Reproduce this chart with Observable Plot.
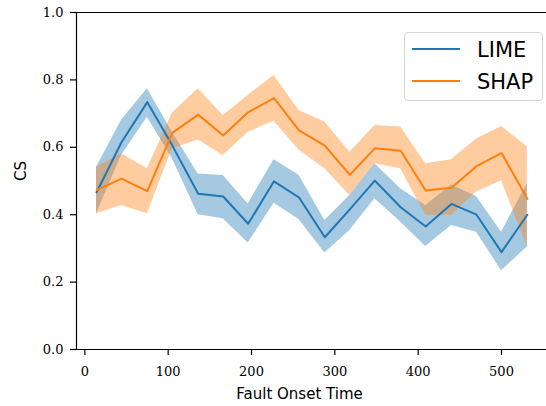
<!DOCTYPE html>
<html><head><meta charset="utf-8">
<script src="https://cdn.jsdelivr.net/npm/d3@7"></script>
<script src="https://cdn.jsdelivr.net/npm/@observablehq/plot@0.6"></script>
<style>
body{margin:0;background:#fff;}
#wrap{position:relative;width:546px;height:406px;overflow:hidden;}
.legend{position:absolute;left:404px;top:32px;width:137px;height:67px;border:1px solid #d6d6d6;border-radius:4px;background:rgba(255,255,255,0.8);font-family:"DejaVu Sans",sans-serif;font-size:21px;color:#000;}
.legend .sw{position:absolute;left:7px;width:48px;height:2px;}
.legend .lb{position:absolute;left:72px;line-height:21px;white-space:nowrap;}
</style>
</head><body>
<div id="wrap"></div>
<script>
const onset = [14, 44, 75, 105, 136, 166, 196, 227, 257, 288, 318, 348, 379, 409, 440, 470, 500, 531];
const limeMean = [0.466, 0.615, 0.734, 0.605, 0.462, 0.454, 0.373, 0.499, 0.451, 0.333, 0.416, 0.501, 0.422, 0.365, 0.432, 0.400, 0.289, 0.400];
const limeLow  = [0.403, 0.576, 0.689, 0.566, 0.400, 0.388, 0.316, 0.434, 0.386, 0.286, 0.353, 0.447, 0.378, 0.306, 0.368, 0.348, 0.234, 0.304];
const limeHigh = [0.541, 0.680, 0.774, 0.645, 0.521, 0.516, 0.432, 0.563, 0.517, 0.383, 0.457, 0.551, 0.477, 0.427, 0.488, 0.454, 0.348, 0.492];
const shapMean = [0.473, 0.507, 0.470, 0.643, 0.697, 0.635, 0.704, 0.746, 0.650, 0.605, 0.518, 0.597, 0.590, 0.472, 0.480, 0.544, 0.583, 0.447];
const shapLow  = [0.403, 0.427, 0.403, 0.596, 0.622, 0.576, 0.645, 0.677, 0.592, 0.536, 0.457, 0.551, 0.536, 0.398, 0.398, 0.467, 0.501, 0.304];
const shapHigh = [0.541, 0.581, 0.536, 0.702, 0.774, 0.694, 0.754, 0.813, 0.709, 0.675, 0.585, 0.665, 0.660, 0.551, 0.563, 0.625, 0.662, 0.602];
const seriesNames = ["LIME", "SHAP"];
const seriesColors = ["#1f77b4", "#ff7f0e"];
const xTicks = [0, 100, 200, 300, 400, 500];
const yTicks = [0, 0.2, 0.4, 0.6, 0.8, 1.0];
const xLabel = "Fault Onset Time";
const yLabel = "CS";

const build = (mean, lo, hi) => onset.map((t, i) => ({t, mean: mean[i], lo: lo[i], hi: hi[i]}));
const lime = build(limeMean, limeLow, limeHigh);
const shap = build(shapMean, shapLow, shapHigh);

const chart = Plot.plot({
  width: 546, height: 406,
  marginLeft: 76, marginRight: 0, marginTop: 12, marginBottom: 57,
  style: {background: "white", overflow: "visible"},
  x: {domain: [-10, 554]},
  y: {domain: [0, 1]},
  marks: [
    Plot.areaY(lime, {x: "t", y1: "lo", y2: "hi", fill: seriesColors[0], fillOpacity: 0.4}),
    Plot.areaY(shap, {x: "t", y1: "lo", y2: "hi", fill: seriesColors[1], fillOpacity: 0.4}),
    Plot.line(lime, {x: "t", y: "mean", stroke: seriesColors[0], strokeWidth: 2}),
    Plot.line(shap, {x: "t", y: "mean", stroke: seriesColors[1], strokeWidth: 2}),
    Plot.ruleY([0, 1], {stroke: "black", strokeWidth: 1.2}),
    Plot.ruleX([-10], {stroke: "black", strokeWidth: 1.2}),
    Plot.axisX(xTicks, {tickSize: 6, tickPadding: 11, fontSize: 13, fontFamily: "DejaVu Serif", label: null, color: "black", strokeWidth: 1.2}),
    Plot.axisY(yTicks, {tickSize: 6, tickPadding: 7, fontSize: 13, fontFamily: "DejaVu Serif", label: null, color: "black", strokeWidth: 1.2, tickFormat: d3.format(".1f")}),
    Plot.text([xLabel], {frameAnchor: "bottom", dy: 49, dx: -12, fontSize: 15, fontFamily: "DejaVu Sans", fill: "black"}),
    Plot.text([yLabel], {frameAnchor: "left", dx: -55, rotate: -90, fontSize: 15, fontFamily: "DejaVu Sans", fill: "black"})
  ]
});
const wrap = document.getElementById("wrap");
wrap.appendChild(chart);

const legend = document.createElement("div");
legend.className = "legend";
const lineTops = [15, 47];
const labelTops = [6.5, 39.2];
seriesNames.forEach((n, i) => {
  const sw = document.createElement("div");
  sw.className = "sw";
  sw.style.top = lineTops[i] + "px";
  sw.style.background = seriesColors[i];
  legend.appendChild(sw);
  const lb = document.createElement("div");
  lb.className = "lb";
  lb.style.top = labelTops[i] + "px";
  lb.textContent = n;
  legend.appendChild(lb);
});
wrap.appendChild(legend);
</script>
</body></html>
